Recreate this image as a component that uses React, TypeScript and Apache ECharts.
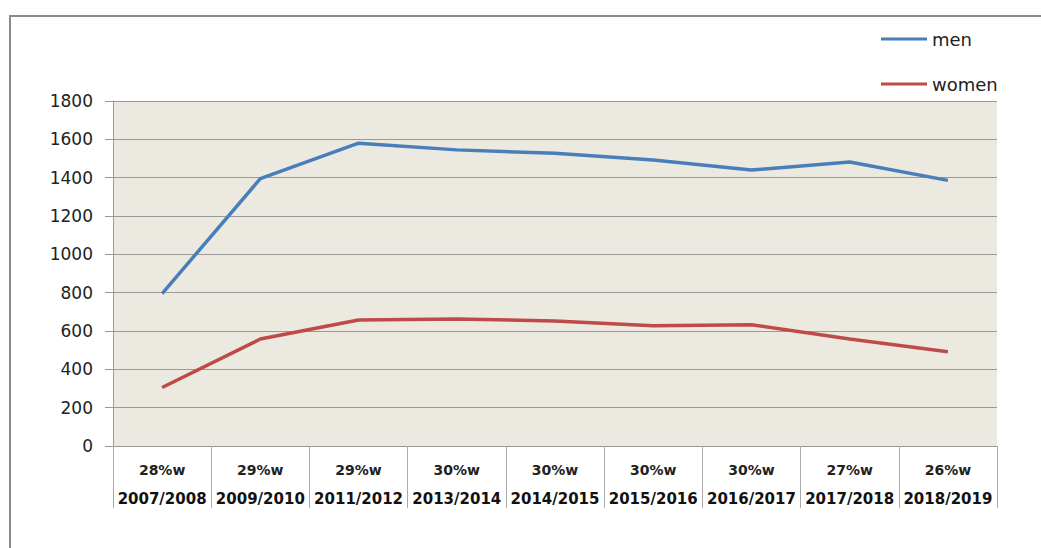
import React, { useEffect, useRef } from "react";
import * as echarts from "echarts";

const years = ["2007/2008", "2009/2010", "2011/2012", "2013/2014", "2014/2015", "2015/2016", "2016/2017", "2017/2018", "2018/2019"];
const womenShare = ["28%w", "29%w", "29%w", "30%w", "30%w", "30%w", "30%w", "27%w", "26%w"];
const men = [795, 1395, 1580, 1545, 1527, 1492, 1440, 1482, 1386];
const women = [305, 558, 657, 663, 652, 628, 633, 558, 492];

export default function App() {
  const ref = useRef<HTMLDivElement>(null);
  useEffect(() => {
    document.body.style.margin = "0";
    const chart = echarts.init(ref.current!, null, { renderer: "svg" });
    const font = "'DejaVu Sans', Verdana, sans-serif";
    chart.setOption({
      animation: false,
      backgroundColor: "#ffffff",
      graphic: [
        {
          type: "rect",
          shape: { x: 10, y: 16, width: 1100, height: 600 },
          style: { fill: "none", stroke: "#8a8a8a", lineWidth: 2 },
          silent: true,
          z: -1,
        },
      ],
      legend: {
        orient: "vertical",
        left: 876,
        top: 25,
        icon: "rect",
        itemWidth: 46,
        itemHeight: 3,
        itemGap: 27,
        textStyle: { fontFamily: font, fontSize: 18, color: "#222" },
        data: ["men", "women"],
      },
      grid: {
        left: 113,
        right: 44,
        top: 101,
        bottom: 102,
        show: true,
        backgroundColor: "#ECEAE0",
        borderWidth: 0,
      },
      xAxis: {
        type: "category",
        data: years,
        axisLine: { lineStyle: { color: "#999", width: 1 } },
        axisTick: { show: true, length: 62, lineStyle: { color: "#aaa", width: 1 } },
        axisLabel: {
          margin: 10,
          interval: 0,
          formatter: (v: string, i: number) => `{a|${womenShare[i]}}\n{b|${v}}`,
          rich: {
            a: { fontFamily: font, fontSize: 14, fontWeight: "bold", color: "#222", lineHeight: 28 },
            b: { fontFamily: font, fontSize: 15, fontWeight: "bold", color: "#111", lineHeight: 29 },
          },
        },
      },
      yAxis: {
        type: "value",
        min: 0,
        max: 1800,
        interval: 200,
        axisLine: { show: true, lineStyle: { color: "#999" } },
        axisTick: { show: true, length: 8, lineStyle: { color: "#999" } },
        axisLabel: {
          margin: 20,
          fontFamily: font,
          fontSize: 17,
          color: "#222",
          formatter: (v: number) => String(v),
        },
        splitLine: { show: true, lineStyle: { color: "#9a9a9a", width: 1 } },
      },
      series: [
        {
          name: "men",
          type: "line",
          data: men,
          symbol: "none",
          lineStyle: { color: "#4A7EBB", width: 3.5 },
          itemStyle: { color: "#4A7EBB" },
        },
        {
          name: "women",
          type: "line",
          data: women,
          symbol: "none",
          lineStyle: { color: "#BE4B48", width: 3.5 },
          itemStyle: { color: "#BE4B48" },
        },
      ],
    });
    return () => chart.dispose();
  }, []);
  return <div ref={ref} style={{ width: 1041, height: 548 }} />;
}
